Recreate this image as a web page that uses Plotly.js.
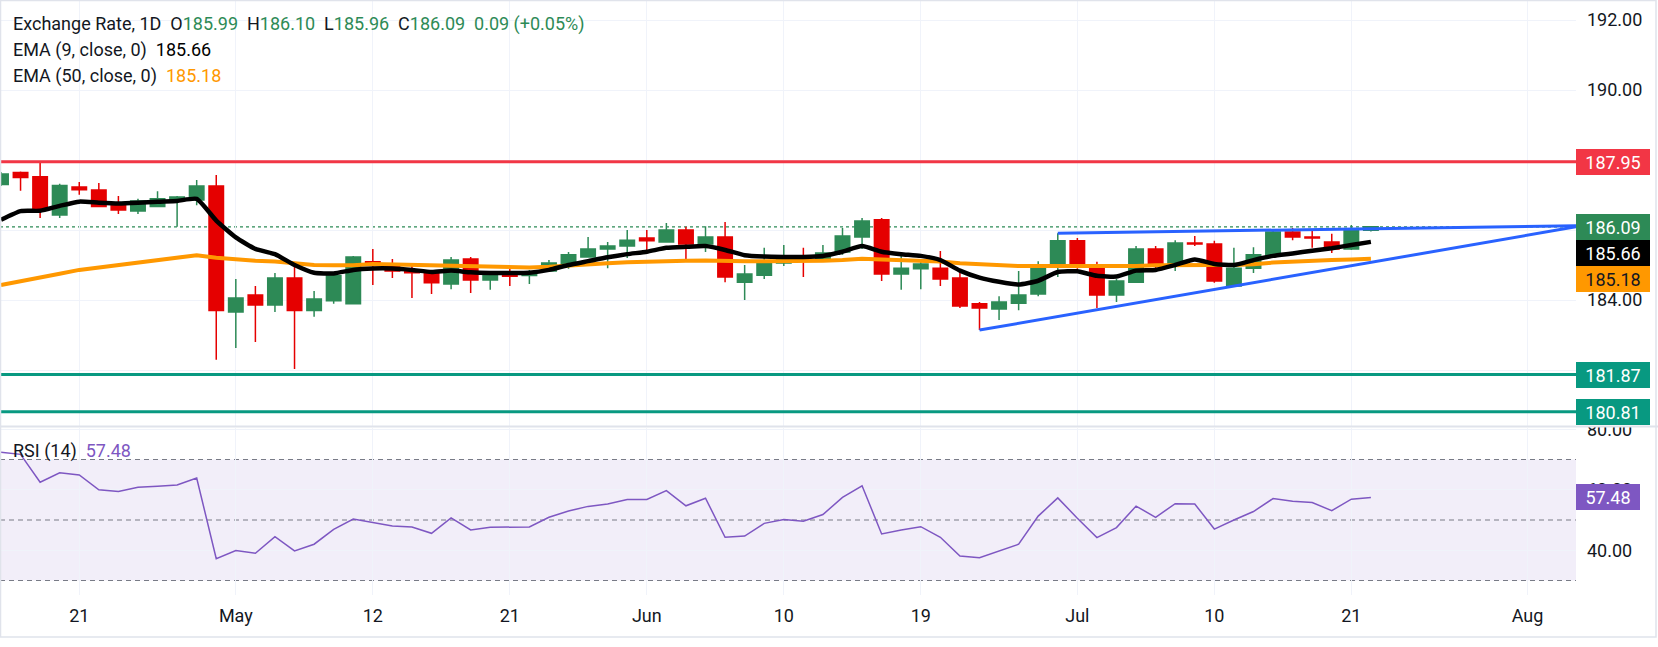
<!DOCTYPE html>
<html>
<head>
<meta charset="utf-8">
<script src="https://cdn.plot.ly/plotly-3.0.1.min.js"></script>
<style>
  html, body { margin: 0; padding: 0; background: #ffffff; }
  #chart { width: 1658px; height: 647px; }
</style>
</head>
<body>
<div id="chart"></div>
<script>
// ---- Daily sessions (weekdays) ----
const sessions = [
  '2026-04-15','2026-04-16','2026-04-17','2026-04-20','2026-04-21','2026-04-22','2026-04-23','2026-04-24',
  '2026-04-27','2026-04-28','2026-04-29','2026-04-30','2026-05-01','2026-05-04','2026-05-05','2026-05-06',
  '2026-05-07','2026-05-08','2026-05-11','2026-05-12','2026-05-13','2026-05-14','2026-05-15','2026-05-18',
  '2026-05-19','2026-05-20','2026-05-21','2026-05-22','2026-05-25','2026-05-26','2026-05-27','2026-05-28',
  '2026-05-29','2026-06-01','2026-06-02','2026-06-03','2026-06-04','2026-06-05','2026-06-08','2026-06-09',
  '2026-06-10','2026-06-11','2026-06-12','2026-06-15','2026-06-16','2026-06-17','2026-06-18','2026-06-19',
  '2026-06-22','2026-06-23','2026-06-24','2026-06-25','2026-06-26','2026-06-29','2026-06-30','2026-07-01',
  '2026-07-02','2026-07-03','2026-07-06','2026-07-07','2026-07-08','2026-07-09','2026-07-10','2026-07-13',
  '2026-07-14','2026-07-15','2026-07-16','2026-07-17','2026-07-20','2026-07-21','2026-07-22'
];
// upcoming sessions kept on the time scale (empty space on the right)
const futureSessions = ['2026-07-23','2026-07-24','2026-07-27','2026-07-28','2026-07-29','2026-07-30','2026-07-31','2026-08-03','2026-08-04','2026-08-05'];

const openPx = [
  187.30,187.64,187.52,186.43,187.23,187.14,186.70,186.54,186.67,186.86,186.86,187.26,183.66,184.14,183.86,184.63,
  183.70,183.98,183.89,185.09,185.03,184.86,184.80,184.46,185.17,184.57,184.71,184.70,184.83,185.00,185.23,185.46,
  185.54,185.77,185.66,186.00,185.60,185.80,184.51,184.71,185.06,185.20,185.11,185.37,185.80,186.29,184.74,184.89,
  184.91,184.63,183.89,183.74,183.91,184.17,184.94,185.69,184.97,184.14,184.51,185.46,184.97,185.63,185.60,184.40,
  184.91,185.26,185.94,185.80,185.66,185.46,185.99
];
const highPx = [
  187.66,187.67,187.97,187.32,187.37,187.34,186.97,186.89,187.11,186.97,187.43,187.57,184.60,184.40,184.77,185.06,
  184.26,184.74,185.26,185.46,185.17,185.06,184.86,185.23,185.23,184.80,184.94,184.86,185.14,185.37,185.80,185.66,
  186.00,186.00,186.20,186.09,186.11,186.23,185.00,185.49,185.57,185.49,185.57,186.06,186.34,186.34,185.37,185.14,
  185.40,184.89,183.94,184.11,184.83,185.11,185.91,185.77,185.09,184.60,185.54,185.54,185.71,185.83,185.69,185.49,
  185.51,186.00,186.06,185.97,185.89,186.14,186.10
];
const lowPx = [
  187.26,187.12,186.34,186.34,187.01,186.65,186.46,186.46,186.66,186.09,186.71,182.29,182.63,182.80,183.66,182.03,
  183.52,183.89,183.88,184.43,184.63,184.06,184.17,184.31,184.20,184.29,184.40,184.46,184.80,184.89,185.22,184.91,
  185.20,185.40,185.65,185.11,185.37,184.51,184.00,184.60,184.97,184.66,185.10,185.29,185.46,184.54,184.29,184.31,
  184.40,183.77,183.14,183.43,183.71,184.11,184.66,184.89,183.77,183.94,184.49,184.83,184.83,185.54,184.49,184.40,
  184.77,185.23,185.71,185.49,185.34,185.43,185.96
];
const closePx = [
  187.60,187.50,186.61,187.27,187.15,186.67,186.57,186.83,186.89,186.94,187.26,183.70,184.06,183.86,184.63,183.70,
  184.03,184.69,185.23,185.01,184.83,184.78,184.49,185.14,184.57,184.71,184.68,184.74,185.06,185.29,185.46,185.54,
  185.71,185.69,186.00,185.60,185.80,184.66,184.74,185.11,185.20,185.11,185.34,185.83,186.26,184.74,184.91,185.03,
  184.60,183.83,183.77,183.94,184.14,184.97,185.69,184.94,184.14,184.54,185.46,184.97,185.63,185.60,184.54,184.91,
  185.29,185.94,185.80,185.77,185.46,186.00,186.09
];
const ema9 = [
  186.29,186.54,186.55,186.69,186.81,186.78,186.76,186.78,186.81,186.83,186.89,186.27,185.79,185.46,185.31,185.00,
  184.78,184.76,184.86,184.90,184.90,184.86,184.80,184.84,184.79,184.77,184.77,184.78,184.86,185.00,185.11,185.22,
  185.31,185.38,185.49,185.52,185.54,185.43,185.28,185.24,185.23,185.23,185.26,185.38,185.54,185.38,185.31,185.26,
  185.14,184.84,184.64,184.52,184.44,184.55,184.80,184.82,184.69,184.67,184.84,184.86,185.00,185.16,185.03,185.00,
  185.14,185.26,185.33,185.41,185.48,185.57,185.66
];
const ema50 = [
  184.43,184.53,184.64,184.75,184.86,184.93,185.02,185.09,185.16,185.22,185.28,185.21,185.16,185.12,185.10,185.05,
  185.00,184.99,184.99,185.03,185.02,185.00,184.98,184.98,184.97,184.96,184.95,184.93,184.95,184.99,185.02,185.05,
  185.08,185.10,185.11,185.12,185.13,185.11,185.11,185.11,185.11,185.11,185.12,185.14,185.18,185.16,185.14,185.12,
  185.10,185.05,185.02,184.99,184.97,184.97,184.97,184.96,184.95,184.95,184.97,184.99,185.00,185.00,185.00,185.00,
  185.02,185.07,185.10,185.12,185.14,185.16,185.18
];
const rsi14 = [
  72.4,71.7,62.5,65.6,64.9,60.0,59.4,60.8,61.2,61.6,63.9,37.2,39.9,39.0,44.5,39.8,
  42.0,46.9,50.3,49.1,48.0,47.7,45.6,50.7,46.7,47.6,47.6,47.7,50.9,53.0,54.5,55.3,
  56.8,56.8,59.7,54.7,57.2,44.3,44.7,48.9,50.2,49.6,51.8,57.5,61.3,45.4,46.7,47.8,
  44.3,38.1,37.5,39.8,42.0,51.3,57.3,50.6,44.2,47.5,54.6,50.9,55.4,55.3,47.0,50.0,
  52.8,57.1,56.2,55.8,53.1,56.9,57.48
];

// horizontal levels
const resistanceLevels = [187.95];
const supportLevels = [181.87, 180.81];
// rising-wedge trend lines: anchor session, anchor price, price at the right edge
const trendStartDates = ['2026-06-30', '2026-06-24'];
const trendStartPrices = [185.91, 183.14];
const trendEndPrices = [186.12, 186.09];

// time-axis labels
const tickDates = ['2026-04-21','2026-05-01','2026-05-12','2026-05-21','2026-06-01','2026-06-10','2026-06-19','2026-07-01','2026-07-10','2026-07-21','2026-08-03'];
const tickLabels = ['21','May','12','21','Jun','10','19','Jul','10','21','Aug'];
// price and RSI scale steps
const priceTicks = [182, 184, 186, 188, 190, 192];
const rsiTicks = [40, 60, 80];

// ---- styling ----
const FONT = 'Roboto, "Open Sans", sans-serif';
const TXT = '#131722';
const UP = '#2d8a56';
const DOWN = '#e50000';
const RES = '#f23645';
const SUP = '#089981';
const EMA_FAST = '#000000';
const EMA_SLOW = '#ff9800';
const TREND = '#2962ff';
const RSI_C = '#7e57c2';
const GRID = '#f0f3fa';
const FRAME = '#e0e3eb';

const W = 1658, H = 647;
const M = {l: 0, r: 82, t: 0, b: 52};
const plotW = W - M.l - M.r;      // 1576
const plotH = H - M.t - M.b;      // 595
const pricePaneBottom = 426;      // px from top of plot area
const rsiPaneTop = 427.5;
const priceRange = [180.4, 192.5714];
const rsiRange = [25.21, 80.58];
const xRange = [-0.05, 80.48];

const py = p => 1 - p / plotH;    // pixel (from top) -> paper y
const px = p => p / plotW;        // pixel (from left) -> paper x

const allSessions = sessions.concat(futureSessions);
const last = sessions.length - 1;
const f2 = v => v.toFixed(2);

// ---- traces ----
const traces = [
  {type: 'scatter', mode: 'lines', x: sessions, y: ema50, xaxis: 'x', yaxis: 'y',
   line: {color: EMA_SLOW, width: 4}, hoverinfo: 'skip'},
  {type: 'scatter', mode: 'lines', x: sessions, y: ema9, xaxis: 'x', yaxis: 'y',
   line: {color: EMA_FAST, width: 4.5, shape: 'spline', smoothing: 0.5}, hoverinfo: 'skip'},
  {type: 'candlestick', x: sessions, open: openPx, high: highPx, low: lowPx, close: closePx,
   xaxis: 'x', yaxis: 'y', whiskerwidth: 0,
   increasing: {line: {color: UP, width: 1.5}, fillcolor: UP},
   decreasing: {line: {color: DOWN, width: 1.5}, fillcolor: DOWN},
   hoverinfo: 'skip'},
  {type: 'scatter', mode: 'lines', x: sessions, y: rsi14, xaxis: 'x', yaxis: 'y2',
   line: {color: RSI_C, width: 1.5}, hoverinfo: 'skip'}
];

// ---- shapes ----
const shapes = [];
// RSI band and guide levels
shapes.push({type: 'rect', xref: 'paper', yref: 'y2', x0: 0, x1: 1, y0: 30, y1: 70,
  fillcolor: 'rgba(126,87,194,0.10)', line: {width: 0}, layer: 'below'});
[70, 50, 30].forEach(v => shapes.push({type: 'line', xref: 'paper', yref: 'y2', x0: 0, x1: 1, y0: v, y1: v,
  line: {color: '#787b86', width: 1.2, dash: '5px,4px'}, layer: 'below'}));
// last close marker line
shapes.push({type: 'line', xref: 'paper', yref: 'y', x0: 0, x1: 1, y0: closePx[last], y1: closePx[last],
  line: {color: UP, width: 1.2, dash: 'dot'}, layer: 'below'});
// horizontal levels
resistanceLevels.forEach(v => shapes.push({type: 'line', xref: 'paper', yref: 'y', x0: 0, x1: 1, y0: v, y1: v,
  line: {color: RES, width: 3}, layer: 'above'}));
supportLevels.forEach(v => shapes.push({type: 'line', xref: 'paper', yref: 'y', x0: 0, x1: 1, y0: v, y1: v,
  line: {color: SUP, width: 3}, layer: 'above'}));
// trend lines
trendStartDates.forEach((d, i) => shapes.push({type: 'line', xref: 'x', yref: 'y',
  x0: allSessions.indexOf(d), x1: xRange[1], y0: trendStartPrices[i], y1: trendEndPrices[i],
  line: {color: TREND, width: 3}, layer: 'above'}));
// clip price-scale text spilling above the RSI pane
shapes.push({type: 'rect', xref: 'paper', yref: 'paper', x0: 1, x1: px(W), y0: py(pricePaneBottom), y1: py(400),
  fillcolor: '#ffffff', line: {width: 0}, layer: 'above'});
// pane separator and outer frame
shapes.push({type: 'line', xref: 'paper', yref: 'paper', x0: 0, x1: px(W), y0: py(pricePaneBottom + 0.5), y1: py(pricePaneBottom + 0.5),
  line: {color: FRAME, width: 2}, layer: 'above'});
shapes.push({type: 'rect', xref: 'paper', yref: 'paper', x0: px(0.5), x1: px(W - 2), y0: py(637), y1: py(0.5),
  line: {color: FRAME, width: 1.5}, fillcolor: 'rgba(0,0,0,0)', layer: 'above'});

// ---- annotations ----
const annotations = [];
const sp = '\u00a0\u00a0';
const g = t => `<span style="color:${UP}">${t}</span>`;
const chg = closePx[last] - closePx[last - 1];
const pct = chg / closePx[last - 1] * 100;
const sign = chg >= 0 ? '+' : '';
const headerLines = [
  `Exchange Rate, 1D${sp}O${g(f2(openPx[last]))}${sp}H${g(f2(highPx[last]))}${sp}L${g(f2(lowPx[last]))}${sp}C${g(f2(closePx[last]))}${sp}${g(f2(chg) + ' (' + sign + f2(pct) + '%)')}`,
  `EMA (9, close, 0)${sp}<span style="color:${EMA_FAST}">${f2(ema9[last])}</span>`,
  `EMA (50, close, 0)${sp}<span style="color:${EMA_SLOW}">${f2(ema50[last])}</span>`
];
const headerY = [24, 50, 76];
headerLines.forEach((t, i) => annotations.push({xref: 'paper', yref: 'paper', x: px(12), y: py(headerY[i]),
  xanchor: 'left', yanchor: 'middle', showarrow: false, text: t, borderpad: 0,
  font: {family: FONT, size: 18, color: TXT}}));
annotations.push({xref: 'paper', yref: 'paper', x: px(12), y: py(451), xanchor: 'left', yanchor: 'middle',
  showarrow: false, borderpad: 0, font: {family: FONT, size: 18, color: TXT},
  text: `RSI (14)${sp}<span style="color:${RSI_C}">${f2(rsi14[last])}</span>`});

// price-scale tags, stacked so they never overlap
const BOX_H = 26;
const pricePx = (pricePaneBottom) / (priceRange[1] - priceRange[0]);
const tags = [
  {v: resistanceLevels[0], bg: RES, fg: '#ffffff'},
  {v: closePx[last], bg: UP, fg: '#ffffff'},
  {v: ema9[last], bg: EMA_FAST, fg: '#ffffff'},
  {v: ema50[last], bg: EMA_SLOW, fg: TXT},
  {v: supportLevels[0], bg: SUP, fg: '#ffffff'},
  {v: supportLevels[1], bg: SUP, fg: '#ffffff'}
].sort((a, b) => b.v - a.v);
const tagCenters = [];
let prevCenter = -Infinity;
tags.forEach(tg => {
  const natural = (priceRange[1] - tg.v) * pricePx;
  const center = Math.max(natural, prevCenter + BOX_H);
  prevCenter = center;
  tagCenters.push(center);
  annotations.push({xref: 'paper', yref: 'y', x: 1, y: tg.v, xanchor: 'left', yanchor: 'middle',
    yshift: natural - center, showarrow: false, text: f2(tg.v), bgcolor: tg.bg, borderwidth: 0,
    borderpad: 2, width: 70, height: 22, align: 'center', valign: 'middle',
    font: {family: FONT, size: 18, color: tg.fg}});
});
annotations.push({xref: 'paper', yref: 'y2', x: 1, y: rsi14[last], xanchor: 'left', yanchor: 'middle',
  showarrow: false, text: f2(rsi14[last]), bgcolor: RSI_C, borderwidth: 0, borderpad: 2,
  width: 60, height: 22, align: 'center', valign: 'middle',
  font: {family: FONT, size: 18, color: '#ffffff'}});

// scale labels that sit under a tag are left blank (the gridline stays)
const priceTickText = priceTicks.map(v => {
  const p = (priceRange[1] - v) * pricePx;
  return tagCenters.some(c => Math.abs(c - p) < BOX_H / 2 + 2) ? '' : f2(v);
});
const rsiTickText = rsiTicks.map(f2);

// ---- layout ----
const layout = {
  width: W, height: H, margin: M,
  paper_bgcolor: '#ffffff', plot_bgcolor: '#ffffff',
  showlegend: false, dragmode: false,
  font: {family: FONT, size: 18, color: TXT},
  boxgap: 0.26, boxgroupgap: 0,
  xaxis: {
    type: 'category', categoryorder: 'array', categoryarray: allSessions,
    range: xRange, autorange: false, anchor: 'y2',
    tickmode: 'array', tickvals: tickDates, ticktext: tickLabels,
    showgrid: true, gridcolor: GRID, gridwidth: 1, ticks: '', showline: false, zeroline: false,
    ticklabelstandoff: 8, tickfont: {family: FONT, size: 18, color: TXT},
    rangeslider: {visible: false}, fixedrange: true
  },
  yaxis: {
    domain: [py(pricePaneBottom), 1], range: priceRange, autorange: false, side: 'right',
    tickmode: 'array', tickvals: priceTicks, ticktext: priceTickText,
    showgrid: true, gridcolor: GRID, gridwidth: 1, zeroline: false, showline: false, ticks: '',
    ticklabelstandoff: 10, tickfont: {family: FONT, size: 18, color: TXT}, fixedrange: true
  },
  yaxis2: {
    domain: [0, py(rsiPaneTop)], range: rsiRange, autorange: false, side: 'right',
    tickmode: 'array', tickvals: rsiTicks, ticktext: rsiTickText,
    showgrid: true, gridcolor: GRID, gridwidth: 1, zeroline: false, showline: false, ticks: '',
    ticklabelstandoff: 10, tickfont: {family: FONT, size: 18, color: TXT}, fixedrange: true
  },
  shapes: shapes,
  annotations: annotations
};

Plotly.newPlot('chart', traces, layout, {displayModeBar: false, staticPlot: true});
</script>
</body>
</html>
